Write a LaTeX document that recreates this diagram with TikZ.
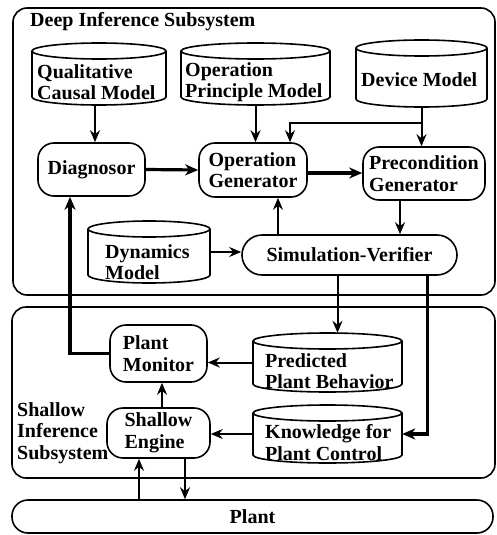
\documentclass[tikz,border=0pt]{standalone}
\usepackage{fontspec}
\setmainfont{Liberation Serif}
\usetikzlibrary{arrows.meta}
\newcommand\lbf{\fontsize{20}{21.5}\selectfont\bfseries}
\tikzset{
  shp/.style={line width=1.6pt},
  container/.style={draw, line width=1.6pt, rounded corners=14pt, inner sep=0},
  rbox/.style={draw, line width=1.6pt, rounded corners=16pt, inner sep=0, font=\lbf, align=left},
  lbl/.style={font=\lbf, align=left, inner sep=0, anchor=west},
  arr/.style={line width=2pt, -{Stealth[length=12pt,width=10pt,inset=4pt]}},
  tarr/.style={line width=3.2pt, -{Stealth[length=13pt,width=11pt,inset=4pt]}},
}
\newcommand\mycyl[5]{%
  \node[inner sep=0, minimum width={(#4-#2)*1pt}, minimum height={(#5-#3)*1pt}] (#1) at ({(#2+#4)/2},{(#3+#5)/2}) {};
  \draw[shp] ({#2},{#3+8}) -- ({#2},{#5-8}) arc[start angle=180, end angle=360, x radius={(#4-#2)/2*1pt}, y radius=8pt] -- ({#4},{#3+8});
  \draw[shp] ({(#2+#4)/2},{#3+8}) ellipse[x radius={(#4-#2)/2*1pt}, y radius=8pt];
}
\begin{document}
\begin{tikzpicture}[x=1pt,y=-1pt]
\useasboundingbox (0,0) rectangle (497,535);
% containers
\node[container, minimum width=482pt, minimum height=287pt] (deep) at (254,151.5) {};
\node[container, minimum width=483pt, minimum height=171pt] (shallow) at (253.5,392.5) {};
\node[rbox, minimum width=481pt, minimum height=33pt] (plant) at (252.5,516.5) {Plant};
\node[lbl] (deepT) at (30,22) {Deep Inference Subsystem};
\node[lbl] (shT) at (17,433) {Shallow\\Inference\\Subsystem};
% cylinders
\mycyl{qcm}{32}{43}{166}{105}
\node[lbl] (qcmT) at (37,82) {Qualitative\\Causal Model};
\mycyl{opm}{181}{43}{330}{105}
\node[lbl] (opmT) at (185,82) {Operation\\Principle Model};
\mycyl{dev}{356}{40}{487}{107}
\node[lbl] (devT) at (361,80) {Device Model};
\mycyl{dyn}{88}{221}{210}{283}
\node[lbl] (dynT) at (105,262) {Dynamics\\Model};
\mycyl{pred}{253}{333}{402}{392}
\node[lbl] (predT) at (265,371) {Predicted\\Plant Behavior};
\mycyl{know}{253}{405}{402}{463}
\node[lbl] (knowT) at (265,442.5) {Knowledge for\\Plant Control};
% process boxes
\node[rbox, minimum width=107pt, minimum height=53pt] (diag) at (91.5,169.5) {Diagnosor};
\node[rbox, minimum width=108pt, minimum height=54pt] (og) at (253,170) {Operation\\Generator};
\node[rbox, minimum width=122pt, minimum height=53pt] (pg) at (424,173.5) {Precondition\\Generator};
\node[rbox, rounded corners=20pt, minimum width=215pt, minimum height=40pt] (sv) at (349.5,255) {Simulation-Verifier};
\node[rbox, minimum width=97pt, minimum height=57pt] (pm) at (158.5,353.5) {Plant\\Monitor};
\node[rbox, minimum width=103pt, minimum height=50pt] (se) at (158.5,433) {Shallow\\Engine};
% helper coordinates
\coordinate (qcms) at ([xshift=-4pt]qcm.south);
\coordinate (dj) at (dev.south |- 0,123);
\coordinate (ogn) at ([xshift=37pt]og.north);
\coordinate (ogs) at ([xshift=25pt]og.south);
\coordinate (ogE) at ([yshift=-3pt]og.east);
\coordinate (pgs) at ([xshift=-24pt]pg.south);
\coordinate (svp) at ([xshift=-12pt]sv.south);
\coordinate (svk) at ([xshift=78pt]sv.south);
\coordinate (sen) at ([xshift=3.5pt]se.north);
\coordinate (diagb) at ([xshift=-21.5pt]diag.south);
\coordinate (pu) at ([xshift=-19.5pt]se.south);
\coordinate (pd) at ([xshift=26.5pt]se.south);
% connectors
\draw[arr] (qcms) -- (qcms |- diag.north);
\draw[arr] (opm.south) -- (opm.south |- og.north);
\draw[arr] (dev.south) -- (dev.south |- pg.north);
\draw[arr] (dj) -| (ogn);
\draw[tarr] (diag.east) -- (og.west);
\draw[tarr] (ogE) -- (ogE -| pg.west);
\draw[arr] (pgs) -- (pgs |- sv.north);
\draw[arr] (ogs |- sv.north) -- (ogs);
\draw[arr] (dyn.east) -- (dyn.east -| sv.west);
\draw[arr] (svp) -- (svp |- pred.north);
\draw[tarr] (svk) |- (know.east);
\draw[arr] (pred.west) -- (pred.west -| pm.east);
\draw[arr] (know.west) -- (know.west -| se.east);
\draw[arr] (sen) -- (sen |- pm.south);
\draw[tarr] (pm.west) -| (diagb);
\draw[arr] (pu |- plant.north) -- (pu);
\draw[arr] (pd) -- (pd |- plant.north);
\end{tikzpicture}
\end{document}
